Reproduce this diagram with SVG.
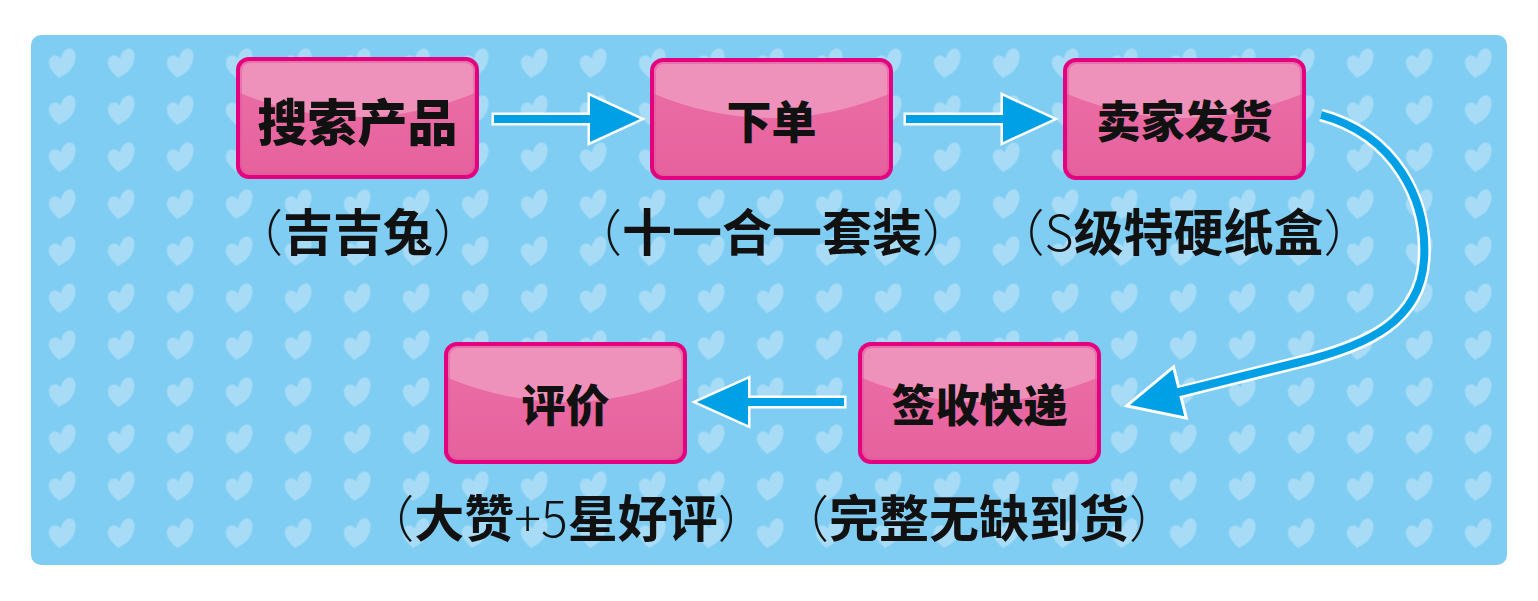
<svg xmlns="http://www.w3.org/2000/svg" width="1538" height="601" viewBox="0 0 1538 601">
<style>
.box{fill:none;stroke:#E4007F;stroke-width:4}
.gloss{fill:#EF92BB}
.lbl{font-family:"Noto Sans CJK SC","Noto Sans",sans-serif;font-weight:900;fill:#111;text-anchor:middle;dominant-baseline:central}
.sub{font-family:"Noto Sans CJK SC","Noto Sans",sans-serif;font-weight:700;font-size:50px;fill:#111;text-anchor:middle;dominant-baseline:central}
.p{font-weight:300}
.arr{fill:#00A0E6;stroke:#fff;stroke-width:5;stroke-linejoin:miter;stroke-miterlimit:10;paint-order:stroke}
</style>
<defs>
<path id="heart" d="M -3,15 C -8,10 -14,5 -13,-2 C -12,-8 -5,-10 -1,-4 C 0,-11 5,-16 10,-14 C 15,-11 14,-3 11,3 C 8,9 2,12 -3,15 Z"/>
<pattern id="hearts" patternUnits="userSpaceOnUse" x="32.5" y="39.5" width="59" height="47">
<use href="#heart" transform="translate(29.5,23.5)" fill="#A8DCF6"/>
</pattern>
<linearGradient id="shade" x1="0" y1="0" x2="0" y2="1">
<stop offset="0" stop-color="#EC70A8"/>
<stop offset="1" stop-color="#E6619D"/>
</linearGradient>
<g id="nodebox">
<rect x="2" y="2" width="239" height="118" rx="11" fill="url(#shade)"/>
<path class="gloss" d="M 4,36 L 4,14 Q 4,4 14,4 L 229,4 Q 239,4 239,14 L 239,36 Q 121.5,84 4,36 Z"/>
<rect x="5" y="5" width="233" height="112" rx="9" fill="none" stroke="#D9589A" stroke-width="2" opacity="0.5"/>
<rect class="box" x="2" y="2" width="239" height="118" rx="11"/>
</g>
</defs>
<rect width="1538" height="601" fill="#fff"/>
<g id="background">
<rect x="31" y="35" width="1476" height="530" rx="10" fill="#7FCDF3"/>
<rect x="31" y="35" width="1476" height="530" rx="10" fill="url(#hearts)"/>
</g>
<g id="connectors">
<polygon class="arr" points="494,115 590,115 590,96 640,119 590,142 590,123 494,123"/>
<polygon class="arr" points="906,115 1003,115 1003,96 1053,119 1003,142 1003,123 906,123"/>
<polygon class="arr" points="844,398 748,398 748,379 697,402 748,425 748,406 844,406"/>
<g id="curved">
<path d="M 1321,115 C 1395,135 1428,200 1424,260 C 1420,320 1370,345 1300,362 L 1180,392" fill="none" stroke="#fff" stroke-width="13"/>
<polygon points="1130,405 1172.7,369.6 1184.3,416.2" fill="#fff" stroke="#fff" stroke-width="6" stroke-linejoin="miter" stroke-miterlimit="10"/>
<path d="M 1321,115 C 1395,135 1428,200 1424,260 C 1420,320 1370,345 1300,362 L 1175,393" fill="none" stroke="#00A0E6" stroke-width="8"/>
<polygon points="1130,405 1172.7,369.6 1184.3,416.2" fill="#00A0E6"/>
</g>
</g>
<g id="node-search" transform="translate(236,57)">
<use href="#nodebox"/>
<text class="lbl" x="121.5" y="62" font-size="50">搜索产品</text>
</g>
<g id="node-order" transform="translate(650,58)">
<use href="#nodebox"/>
<text class="lbl" x="121.5" y="61" font-size="45">下单</text>
</g>
<g id="node-ship" transform="translate(1063,58)">
<use href="#nodebox"/>
<text class="lbl" x="121.5" y="61" font-size="44">卖家发货</text>
</g>
<g id="node-receive" transform="translate(858,342)">
<use href="#nodebox"/>
<text class="lbl" x="121.5" y="61" font-size="44">签收快递</text>
</g>
<g id="node-review" transform="translate(444,342)">
<use href="#nodebox"/>
<text class="lbl" x="121.5" y="61" font-size="44">评价</text>
</g>
<g id="subtitles">
<text class="sub" x="358" y="229"><tspan class="p">（</tspan>吉吉兔<tspan class="p">）</tspan></text>
<text class="sub" x="772" y="229"><tspan class="p">（</tspan>十一合一套装<tspan class="p">）</tspan></text>
<text class="sub" x="1184" y="229"><tspan class="p">（</tspan><tspan class="p">S</tspan>级特硬纸盒<tspan class="p">）</tspan></text>
<text class="sub" x="566" y="515"><tspan class="p">（</tspan>大赞<tspan class="p">+5</tspan>星好评<tspan class="p">）</tspan></text>
<text class="sub" x="979" y="515"><tspan class="p">（</tspan>完整无缺到货<tspan class="p">）</tspan></text>
</g>
</svg>
